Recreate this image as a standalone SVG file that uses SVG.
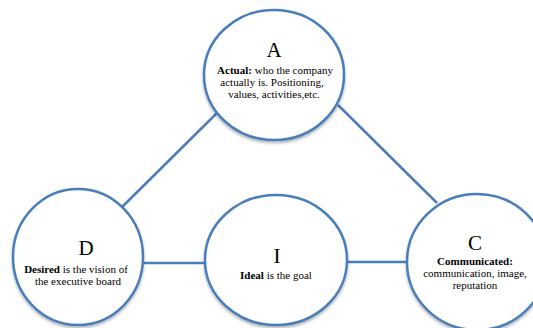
<svg xmlns="http://www.w3.org/2000/svg" width="533" height="328" viewBox="0 0 533 328">
<style>
.node{fill:#fff;stroke:#4a7ebb;stroke-width:2.5;filter:url(#sh)}
.con line{stroke:#4a7ebb;stroke-width:2.5}
text{font-family:"Liberation Serif","Times New Roman",serif;fill:#000;text-anchor:middle}
.big{font-size:21px}
.sm{font-size:11px}
.b{font-weight:bold}
</style>
<defs>
<filter id="sh" x="-20%" y="-20%" width="140%" height="150%">
<feGaussianBlur in="SourceAlpha" stdDeviation="1.5"/>
<feOffset dx="0" dy="2" result="o"/>
<feComponentTransfer><feFuncA type="linear" slope="0.3"/></feComponentTransfer>
<feMerge><feMergeNode/><feMergeNode in="SourceGraphic"/></feMerge>
</filter>
</defs>
<rect width="533" height="328" fill="#fff"/>
<g id="connectors" class="con">
<line x1="120" y1="209" x2="217" y2="113"/>
<line x1="338" y1="105" x2="437" y2="203"/>
<line x1="143" y1="263" x2="205" y2="263"/>
<line x1="347" y1="262" x2="407" y2="262"/>
</g>
<g id="A">
<ellipse class="node" cx="274" cy="75" rx="70" ry="65"/>
<text class="big" x="274" y="57">A</text>
<text class="sm" x="275" y="74"><tspan class="b">Actual:</tspan> who the company</text>
<text class="sm" x="272" y="86">actually is. Positioning,</text>
<text class="sm" x="274" y="98">values, activities,etc.</text>
</g>
<g id="D">
<ellipse class="node" cx="78" cy="257" rx="65" ry="68"/>
<text class="big" x="86" y="255">D</text>
<text class="sm" x="76" y="273"><tspan class="b">Desired</tspan> is the vision of</text>
<text class="sm" x="78" y="285">the executive board</text>
</g>
<g id="I">
<ellipse class="node" cx="276" cy="260" rx="71" ry="65"/>
<text class="big" x="277" y="263">I</text>
<text class="sm" x="276" y="279"><tspan class="b">Ideal</tspan> is the goal</text>
</g>
<g id="C">
<ellipse class="node" cx="477" cy="262" rx="70" ry="68"/>
<text class="big" x="475" y="250">C</text>
<text class="sm b" x="475" y="265">Communicated:</text>
<text class="sm" x="475" y="277">communication, image,</text>
<text class="sm" x="475" y="289">reputation</text>
</g>
</svg>
